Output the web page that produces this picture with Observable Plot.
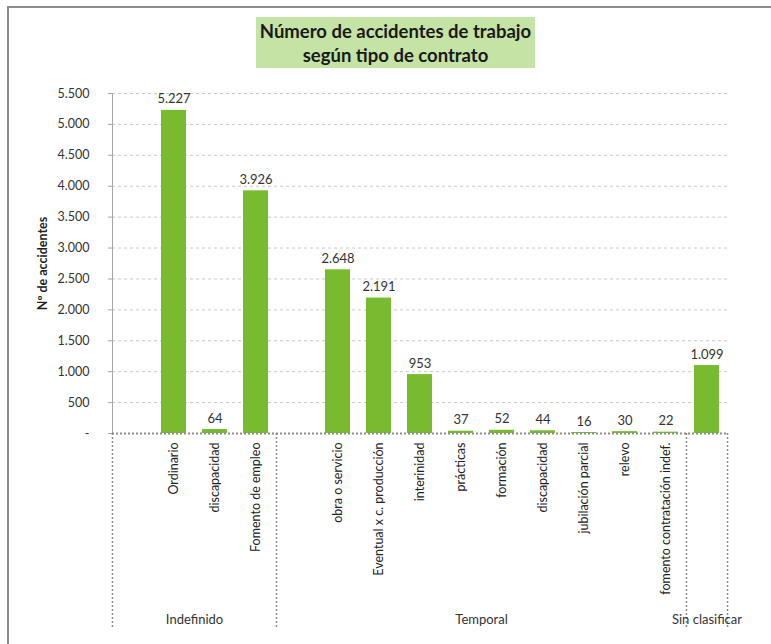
<!DOCTYPE html>
<html><head><meta charset="utf-8">
<script src="https://cdn.jsdelivr.net/npm/d3@7"></script>
<script src="https://cdn.jsdelivr.net/npm/@observablehq/plot@0.6"></script>
<style>
body{margin:0;background:#fff;font-family:Lato,"Open Sans",sans-serif;}
#wrap{position:relative;width:771px;height:644px;overflow:hidden;}
#frame{position:absolute;left:7px;top:6px;right:-10px;bottom:-10px;border-top:2px solid #8c8c8c;border-left:2px solid #8c8c8c;}
#chart{position:absolute;left:0;top:0;}
#title{position:absolute;left:256px;top:17px;width:279px;height:51px;background:#c4e3a4;display:flex;flex-direction:column;justify-content:center;align-items:center;font-weight:bold;font-size:18.5px;line-height:24px;color:#1a1a1a;white-space:nowrap;}
</style></head><body>
<div id="wrap"><div id="frame"></div><div id="chart"></div><div id="title"><div>Número de accidentes de trabajo</div><div>según tipo de contrato</div></div></div>
<script>
const groups = ["Indefinido", "Temporal", "Sin clasificar"];
const categories = ["Ordinario", "discapacidad", "Fomento de empleo", "obra o servicio", "Eventual x c. producción", "interinidad", "prácticas", "formación", "discapacidad", "jubilación parcial", "relevo", "fomento contratación indef.", ""];
const categoryGroup = ["Indefinido", "Indefinido", "Indefinido", "Temporal", "Temporal", "Temporal", "Temporal", "Temporal", "Temporal", "Temporal", "Temporal", "Temporal", "Sin clasificar"];
const values = [5227, 64, 3926, 2648, 2191, 953, 37, 52, 44, 16, 30, 22, 1099];
const yTicks = [0, 500, 1000, 1500, 2000, 2500, 3000, 3500, 4000, 4500, 5000, 5500];

// layout: empty slots before each group's bars
const leadingGap = {"Indefinido": 1, "Temporal": 1, "Sin clasificar": 0};

const loc = d3.formatLocale({decimal: ",", thousands: ".", grouping: [3], currency: ["", "€"]});
const fmt = loc.format(",d");

const slots = [];
const rows = [];
const groupSlots = {};
groups.forEach(g => {
  groupSlots[g] = [];
  for (let k = 0; k < leadingGap[g]; k++) { const key = g + "|gap" + k; slots.push(key); groupSlots[g].push(key); }
  categories.forEach((c, i) => {
    if (categoryGroup[i] === g) {
      const key = g + "|" + i;
      slots.push(key); groupSlots[g].push(key);
      rows.push({key, label: c, value: values[i], group: g});
    }
  });
});

const W = 771, H = 644, ML = 112, MR = 43, MT = 93, MB = 211;
const step = (W - ML - MR) / slots.length;

const groupStarts = groups.map(g => groupSlots[g][0]);
const lastKey = slots[slots.length - 1];

const groupLabelMarks = groups.map(g => {
  const s = groupSlots[g];
  const mid = (s.length - 1) / 2;
  const k = Math.floor(mid);
  return Plot.text([g], {x: () => s[k], y: 0, text: d => d, dx: (mid - k) * step, dy: 186, fontSize: 13, fill: "#333"});
});

const chart = Plot.plot({
  width: W, height: H,
  marginLeft: ML, marginRight: MR, marginTop: MT, marginBottom: MB,
  style: {fontFamily: "Lato, 'Open Sans', sans-serif", background: "transparent", overflow: "visible"},
  x: {domain: slots, paddingInner: 0.39, paddingOuter: 0.195, axis: null},
  y: {domain: [0, 5500], axis: null},
  marks: [
    Plot.gridY(yTicks.filter(v => v > 0), {stroke: "#c8c8c8", strokeOpacity: 1, strokeDasharray: "3,3"}),
    Plot.barY(rows, {x: "key", y: "value", fill: "#78bb2e"}),
    Plot.frame({anchor: "left", stroke: "#a6a6a6"}),
    Plot.axisY(yTicks, {tickSize: 4, tickPadding: 19, tickFormat: v => v === 0 ? "-" : fmt(v), fontSize: 12.5, color: "#333", stroke: "#a6a6a6", label: null}),
    Plot.ruleY([0], {stroke: "#8c8c8c", strokeWidth: 2, strokeDasharray: "2,2"}),
    Plot.ruleX(groupStarts, {x: d => d, y1: 0, y2: 0, insetBottom: -194, dx: -step / 2, stroke: "#8c8c8c", strokeWidth: 1.5, strokeDasharray: "2,2"}),
    Plot.ruleX([lastKey], {x: d => d, y1: 0, y2: 0, insetBottom: -194, dx: step / 2, stroke: "#8c8c8c", strokeWidth: 1.5, strokeDasharray: "2,2"}),
    Plot.text(rows, {x: "key", y: "value", text: d => fmt(d.value), lineAnchor: "bottom", dy: -7, fontSize: 13, fill: "#333"}),
    Plot.text(rows, {x: "key", y: 0, text: "label", rotate: -90, textAnchor: "end", dy: 9, fontSize: 12.5, fill: "#222"}),
    ...groupLabelMarks,
    Plot.text(["Nº de accidentes"], {frameAnchor: "left", textAnchor: "middle", text: d => d, dx: -70, rotate: -90, fontWeight: "bold", fontSize: 12.5, fill: "#222"})
  ]
});
document.getElementById("chart").appendChild(chart);
</script>
</body></html>
